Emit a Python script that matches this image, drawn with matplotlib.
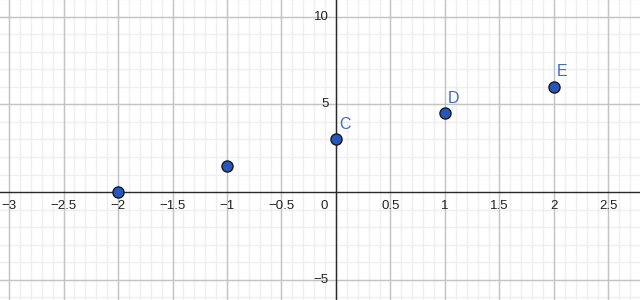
import numpy as np
import matplotlib
matplotlib.use("Agg")
import matplotlib.pyplot as plt

px = [-2, -1, 0, 1, 2]
py = [0, 1.5, 3, 4.5, 6]
labels = ["", "", "C", "D", "E"]

xticks = [-3, -2.5, -2, -1.5, -1, -0.5, 0.5, 1, 1.5, 2, 2.5]
yticks = [-5, 5, 10]

fig = plt.figure(figsize=(6.4, 3.0), dpi=100)
ax = fig.add_axes([0, 0, 1, 1])
ax.set_xlim(-3.083, 2.79)
ax.set_ylim(-6.171, 10.971)
for s in ax.spines.values():
    s.set_visible(False)
ax.set_xticks([]); ax.set_yticks([])

# minor grid
for x in np.arange(-3.1, 2.81, 0.1):
    ax.axvline(x, color="#efefef", lw=1, zorder=0)
for y in range(-7, 12):
    ax.axhline(y, color="#efefef", lw=1, zorder=0)
# major grid
for x in np.arange(-3.0, 2.81, 0.5):
    ax.axvline(x, color="#c4c4c4", lw=1, zorder=1)
for y in [-5, 5, 10]:
    ax.axhline(y, color="#c4c4c4", lw=1, zorder=1)
# axes
ax.axhline(0, color="#2a2a2a", lw=1, zorder=2)
ax.axvline(0, color="#2a2a2a", lw=1, zorder=2)

fs = 9.5
for t in xticks:
    s = ("%g" % t).replace("-", "\u2212")
    ax.annotate(s, (t, 0), xytext=(0, -8), textcoords="offset pixels",
                ha="center", va="top", fontsize=fs, color="#222222",
                family="Liberation Sans", zorder=3)
ax.annotate("0", (0, 0), xytext=(-12, -8), textcoords="offset pixels",
            ha="center", va="top", fontsize=fs, color="#222222",
            family="Liberation Sans", zorder=3)
for t in yticks:
    s = ("%g" % t).replace("-", "\u2212")
    ax.annotate(s, (0, t), xytext=(-7, 0), textcoords="offset pixels",
                ha="right", va="center", fontsize=fs, color="#222222",
                family="Liberation Sans", zorder=3)

ax.scatter(px, py, s=64, color="#2458bf", edgecolor="#1a1a1a",
           linewidth=1, zorder=5)
for x, y, l in zip(px, py, labels):
    if l:
        ax.annotate(l, (x, y), xytext=(3, 15), textcoords="offset pixels",
                    ha="left", va="center", fontsize=11.5, color="#3a6bd0",
                    family="Liberation Sans", zorder=6)

fig.savefig("out.png", dpi=100)
